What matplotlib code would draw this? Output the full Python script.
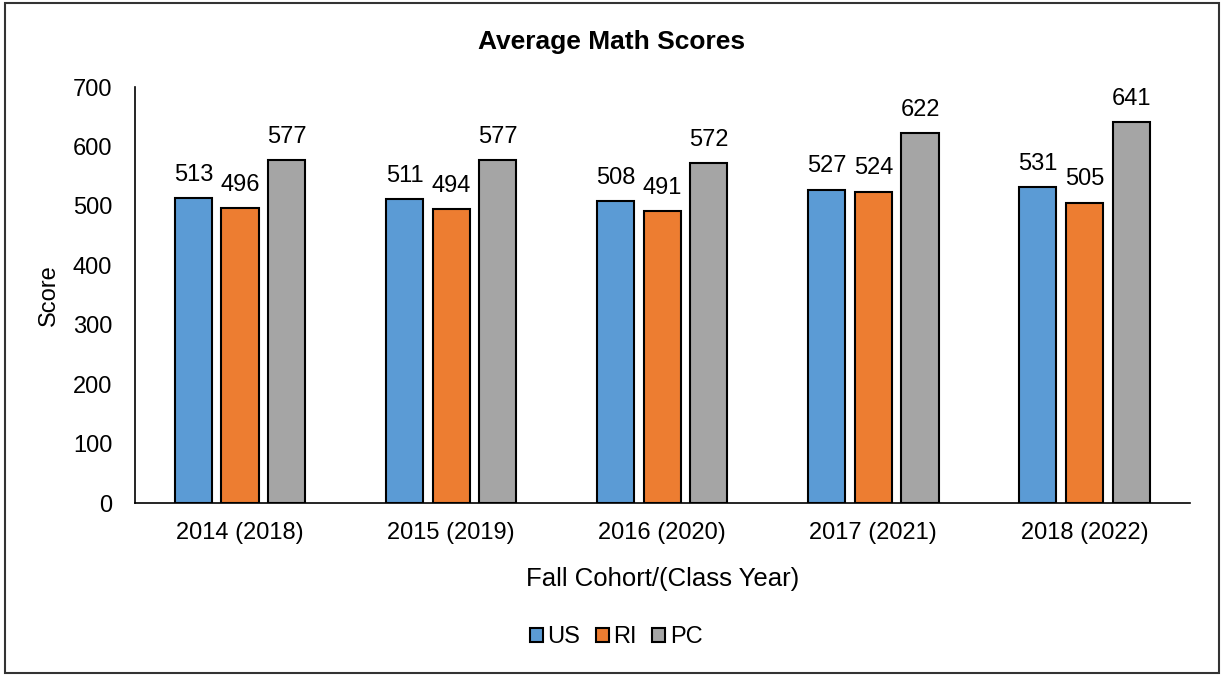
import numpy as np
import matplotlib.pyplot as plt
from matplotlib.patches import Rectangle

plt.rcParams['font.family'] = ['Liberation Sans', 'DejaVu Sans']

cohorts = ['2014 (2018)', '2015 (2019)', '2016 (2020)', '2017 (2021)', '2018 (2022)']
us = [513, 511, 508, 527, 531]
ri = [496, 494, 491, 524, 505]
pc = [577, 577, 572, 622, 641]

series = [('US', us, '#5B9BD5'), ('RI', ri, '#ED7D31'), ('PC', pc, '#A5A5A5')]

W, H = 1221, 675
fig = plt.figure(figsize=(W/100, H/100), dpi=100)
# outer frame
fig.patches.append(Rectangle((5/W, 2/H), 1214/W, 670/H, transform=fig.transFigure,
                             fill=False, edgecolor='#333333', linewidth=1.5))

ax = fig.add_axes([134.5/W, 1-503/H, (1190-134.5)/W, (503-87)/H])
x = np.arange(len(cohorts))
bw = 0.176
step = 0.221
for i, (name, vals, col) in enumerate(series):
	bars = ax.bar(x + (i-1)*step, vals, bw, color=col, edgecolor='black', linewidth=1.5, label=name)
	ax.bar_label(bars, padding=9, fontsize=17)

ax.set_xlim(-0.5, len(cohorts)-0.5)
ax.set_ylim(0, 700)
ax.set_yticks(range(0, 701, 100))
ax.set_xticks(x)
ax.set_xticklabels(cohorts)
ax.tick_params(length=0, labelsize=17, pad=14)
ax.tick_params(axis='y', pad=16)
for s in ['top', 'right']:
	ax.spines[s].set_visible(False)
ax.spines['left'].set_linewidth(1.2)
ax.spines['bottom'].set_linewidth(1.2)

ax.set_ylabel('Score', fontsize=17, labelpad=9)
ax.set_xlabel('Fall Cohort/(Class Year)', fontsize=18.5, labelpad=16)
fig.text(612/W, 1-42/H, 'Average Math Scores', fontsize=19, fontweight='bold', ha='center', va='center')

ax.legend(loc='center', bbox_to_anchor=(616/W, 1-637/H), bbox_transform=fig.transFigure,
          ncol=3, frameon=False, fontsize=17, handlelength=0.55, handleheight=0.55,
          handletextpad=0.2, columnspacing=0.65, borderpad=0)

fig.savefig('out.png', dpi=100)
